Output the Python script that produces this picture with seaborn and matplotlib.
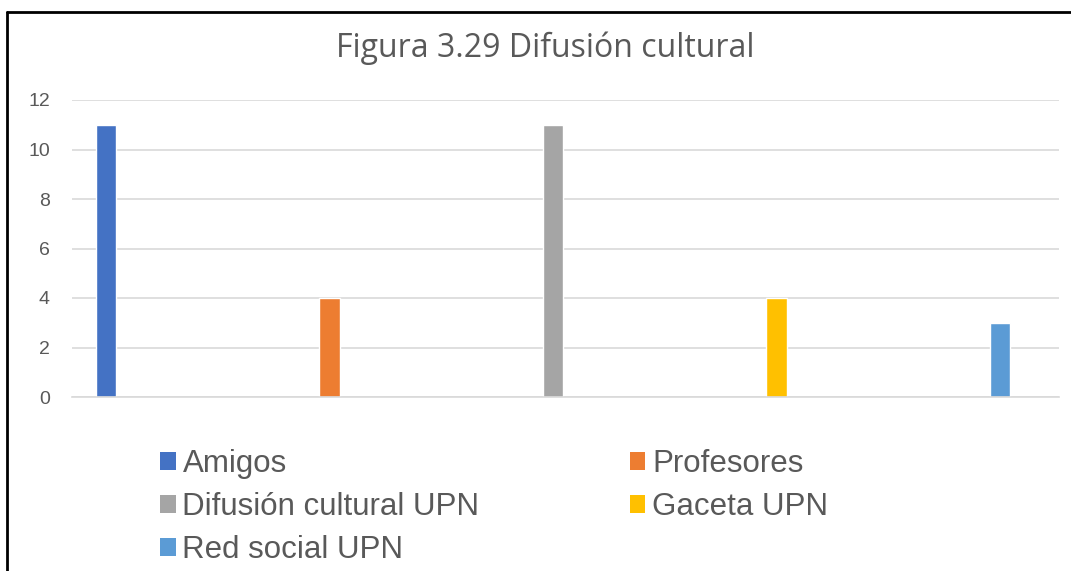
import matplotlib
matplotlib.use('Agg')
import matplotlib.pyplot as plt
import seaborn as sns
from matplotlib.patches import Patch
from matplotlib.lines import Line2D

fuentes = ['Amigos', 'Profesores', 'Difusión cultural UPN', 'Gaceta UPN', 'Red social UPN']
valores = [11, 4, 11, 4, 3]
colores = ['#4472C4', '#ED7D31', '#A5A5A5', '#FFC000', '#5B9BD5']
yticks = [0, 2, 4, 6, 8, 10, 12]

sns.set_style('white')
plt.rcParams['font.family'] = ['Liberation Sans', 'DejaVu Sans']

W, H = 1071, 571
fig = plt.figure(figsize=(W / 100, H / 100), dpi=100)
ax = fig.add_axes([72 / W, 1 - 397 / H, (1059 - 72) / W, (397 - 100) / H])

sns.barplot(x=fuentes, y=valores, hue=fuentes, palette=colores, width=0.09,
            legend=False, ax=ax, saturation=1)

ax.set_xlim(-0.152, 4.264)
ax.set_ylim(0, 12)
ax.set_yticks(yticks)
ax.set_xticks([])
ax.set_xlabel('')
ax.set_ylabel('')
ax.yaxis.grid(True, color='#d9d9d9', linewidth=1.2)
ax.set_axisbelow(True)
for s in ['top', 'right', 'left']:
    ax.spines[s].set_visible(False)
ax.spines['bottom'].set_color('#d9d9d9')
ax.spines['bottom'].set_linewidth(1.2)
ax.tick_params(axis='y', length=0, pad=16, labelsize=14, labelcolor='#595959')

fig.text(545 / W, 1 - 48 / H, 'Figura 3.29 Difusión cultural', ha='center', va='center',
         fontsize=23, color='#595959', family=['Open Sans', 'DejaVu Sans'])

# leyenda en orden por filas (2 columnas)
orden = [0, 2, 4, 1, 3]
handles = [Patch(facecolor=colores[i], edgecolor='none') for i in orden]
etiquetas = [fuentes[i] for i in orden]
fig.legend(handles, etiquetas, ncol=2, loc='upper left', bbox_to_anchor=(160 / W, 1 - 449 / H),
           frameon=False, fontsize=22.5, labelcolor='#595959', handlelength=0.5, handleheight=0.5,
           handletextpad=0.22, columnspacing=4.8, labelspacing=0.42, borderpad=0, borderaxespad=0)

# marco negro
fig.add_artist(Line2D([7 / W, 7 / W], [0, 1 - 12 / H], color='black', linewidth=2))
fig.add_artist(Line2D([7 / W, 1], [1 - 12 / H, 1 - 12 / H], color='black', linewidth=2))

fig.savefig('out.png', dpi=100)
